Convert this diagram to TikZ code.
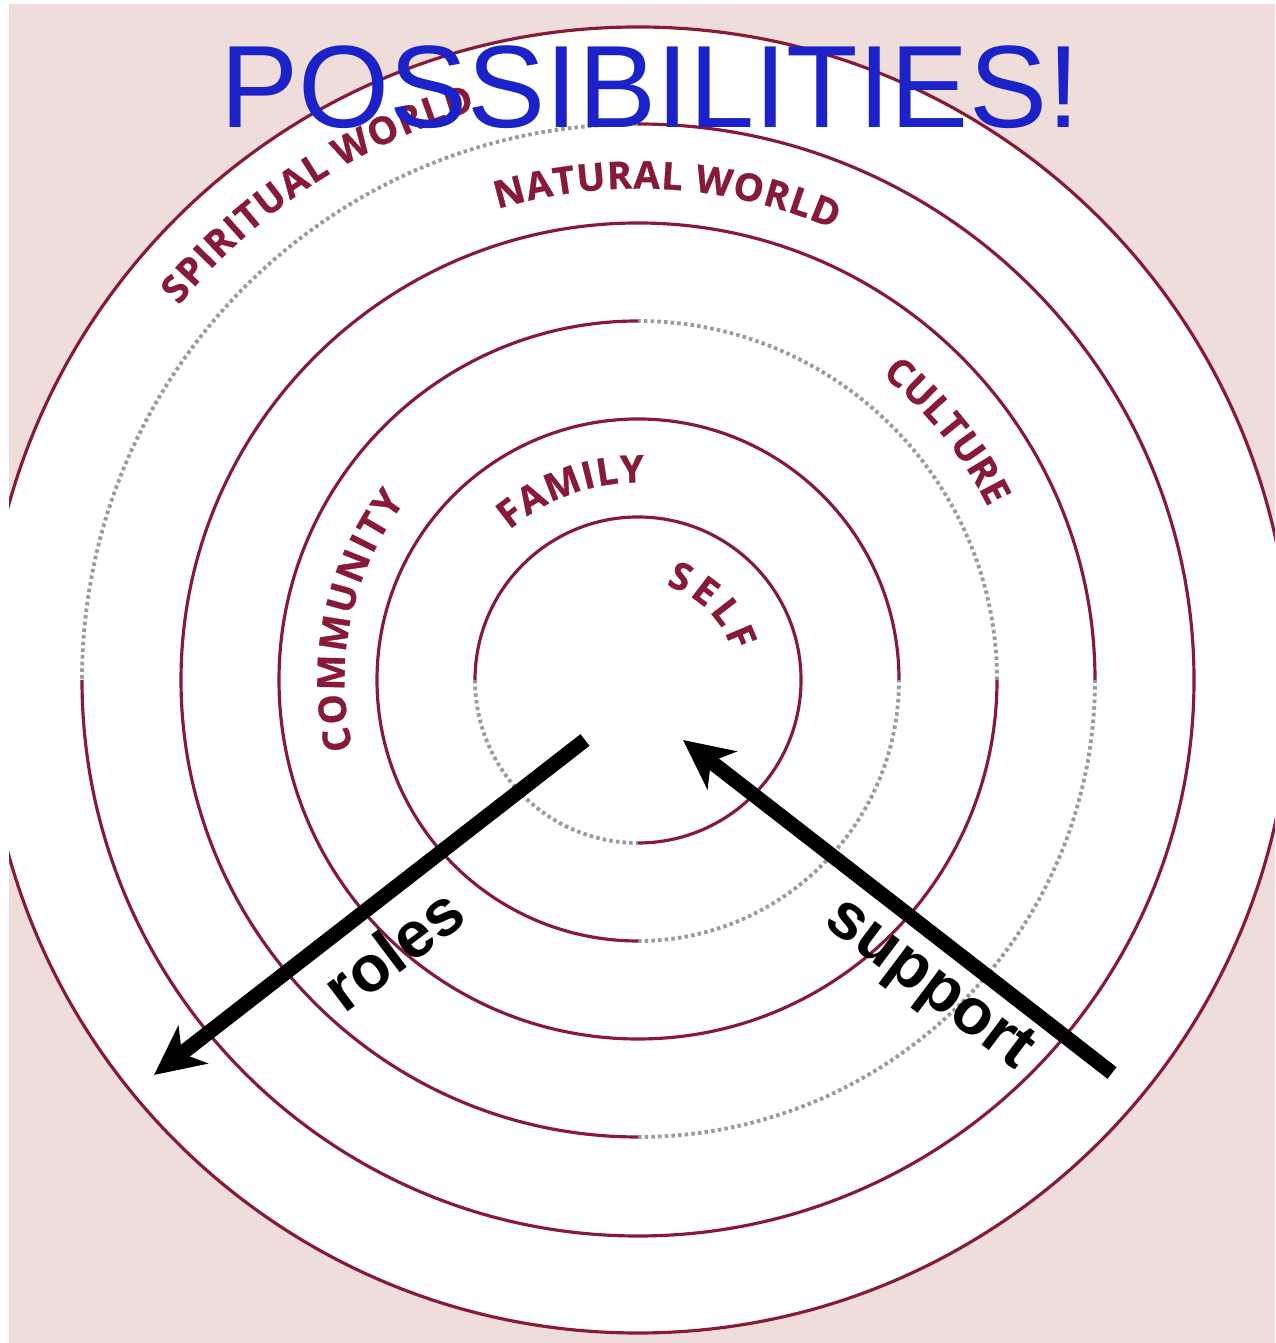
\documentclass[tikz,border=0pt]{standalone}
\usepackage{fontspec}
\setmainfont{Liberation Sans}
\newfontfamily\ringfont{Open Sans}[BoldFeatures={FakeBold=0.8}]
\usetikzlibrary{decorations.text,arrows.meta}
\definecolor{bgpink}{RGB}{238,221,218}
\definecolor{ringred}{RGB}{135,27,55}
\definecolor{titleblue}{RGB}{26,34,200}
\definecolor{dotgray}{RGB}{155,155,155}

\begin{document}
\begin{tikzpicture}[x=0.01cm, y=0.01cm,
    ring/.style={draw=ringred, line width=0.9pt},
    dotring/.style={draw=dotgray, line width=1.1pt, dash pattern=on 1pt off 0.9pt},
    bigarrow/.style={-{Stealth[length=14pt, width=13.5pt, inset=4pt]}, line width=4.2pt},
    armlabel/.style={font=\fontsize{18.5}{22}\selectfont\bfseries, inner sep=0pt},
    ringlabel/.style={decorate, decoration={text along path, text align=fit to path,
        text={|\ringfont\bfseries\fontsize{10.8}{12}\selectfont\color{ringred}|#1}}}]

    % 背景
    \fill[white] (0,0) rectangle (1275,1343);
    \fill[bgpink] (9,0) rectangle (1275,1339);
    \useasboundingbox (0,0) rectangle (1275,1343);
    \coordinate (c) at (638,663);

    % 最外圈白底
    \begin{scope}
        \clip (9,0) rectangle (1275,1339);
        \fill[white] (c) circle (653);
        \draw[ring] (c) circle (653);
    \end{scope}

    % 各圈: 点线一段, 其余实线
    \foreach \r/\a/\b in {163/180/270, 261/-90/0, 359/0/90, 457/-90/0, 556/90/180} {
        \draw[dotring] ([shift={(\a:\r)}]c) arc[start angle=\a, end angle=\b, radius=\r];
        \draw[ring] ([shift={(\b:\r)}]c) arc[start angle=\b, end angle=\a+360, radius=\r];
    }

    % 圈上的文字
    \path[ringlabel={SELF}] ([shift={(73.6:98.5)}]c) arc[start angle=73.6, end angle=16.8, radius=98.5];
    \path[ringlabel={FAMILY}] ([shift={(130.6:197.5)}]c) arc[start angle=130.6, end angle=88.2, radius=197.5];
    \path[ringlabel={COMMUNITY}] ([shift={(193.6:293.5)}]c) arc[start angle=193.6, end angle=142.5, radius=293.5];
    \path[ringlabel={CULTURE}] ([shift={(51.4:390.5)}]c) arc[start angle=51.4, end angle=26.4, radius=390.5];
    \path[ringlabel={NATURAL WORLD}] ([shift={(106.6:491.5)}]c) arc[start angle=106.6, end angle=66.5, radius=491.5];
    \path[ringlabel={SPIRITUAL WORLD}] ([shift={(140.8:592.5)}]c) arc[start angle=140.8, end angle=105.9, radius=592.5];

    % 两个箭头
    \coordinate (rolestail) at (585,603);
    \coordinate (rolestip) at (154,268);
    \coordinate (supporttail) at (1112,270);
    \coordinate (supporttip) at (683,603);
    \draw[bigarrow] (rolestail) -- (rolestip);
    \draw[bigarrow] (supporttail) -- (supporttip);
    \node[armlabel, rotate=37] (roles) at (393,394) {roles};
    \node[armlabel, rotate=-37] (support) at (928,357) {support};

    % 标题
    \node[font=\fontsize{33.3}{40}\selectfont, text=titleblue, anchor=base, inner sep=0pt] (title) at (650,1215) {POSSIBILITIES!};
\end{tikzpicture}
\end{document}
